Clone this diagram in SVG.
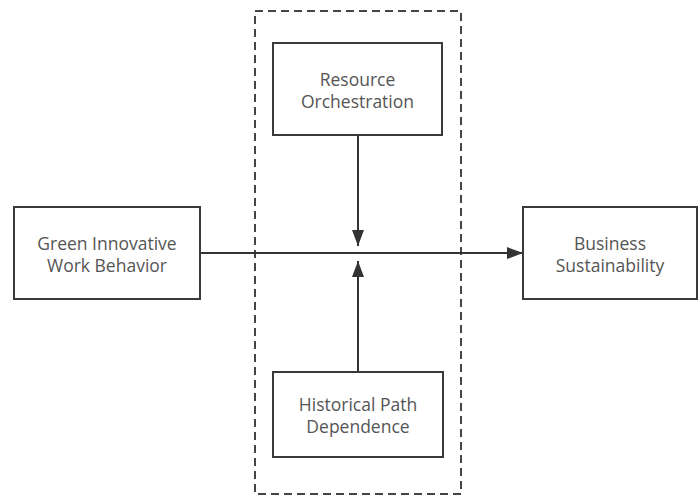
<svg xmlns="http://www.w3.org/2000/svg" width="699" height="497" viewBox="0 0 699 497">
<style>
.box{fill:#fff;stroke:#3a3a3a;stroke-width:2}
.t{font-family:"Open Sans","Noto Sans",sans-serif;font-size:17.5px;fill:#555;text-anchor:middle}
.c{stroke:#333;stroke-width:2;fill:none}
</style>
<defs>
<marker id="ah" markerWidth="16" markerHeight="12" refX="16" refY="6" orient="auto" markerUnits="userSpaceOnUse">
<path d="M0,0 L16,6 L0,12 Z" fill="#333"/>
</marker>
</defs>
<rect width="699" height="497" fill="#fff"/>
<g id="moderator-frame">
<rect x="255" y="11" width="206" height="483" fill="none" stroke="#444" stroke-width="2" stroke-dasharray="8,5"/>
</g>
<g id="connectors">
<line class="c" x1="200" y1="253" x2="523" y2="253" marker-end="url(#ah)"/>
<line class="c" x1="358" y1="135" x2="358" y2="246" marker-end="url(#ah)"/>
<line class="c" x1="358" y1="372" x2="358" y2="261" marker-end="url(#ah)"/>
</g>
<g id="resource-orchestration">
<rect class="box" x="273" y="43" width="169" height="92"/>
<text class="t" x="357.5" y="86">Resource</text>
<text class="t" x="357.5" y="108">Orchestration</text>
</g>
<g id="green-innovative-work-behavior">
<rect class="box" x="14" y="207" width="186" height="92"/>
<text class="t" x="107" y="250">Green Innovative</text>
<text class="t" x="107" y="272">Work Behavior</text>
</g>
<g id="business-sustainability">
<rect class="box" x="523" y="207" width="174" height="92"/>
<text class="t" x="610" y="250">Business</text>
<text class="t" x="610" y="272">Sustainability</text>
</g>
<g id="historical-path-dependence">
<rect class="box" x="273" y="372" width="170" height="85"/>
<text class="t" x="358" y="411">Historical Path</text>
<text class="t" x="358" y="433">Dependence</text>
</g>
</svg>
